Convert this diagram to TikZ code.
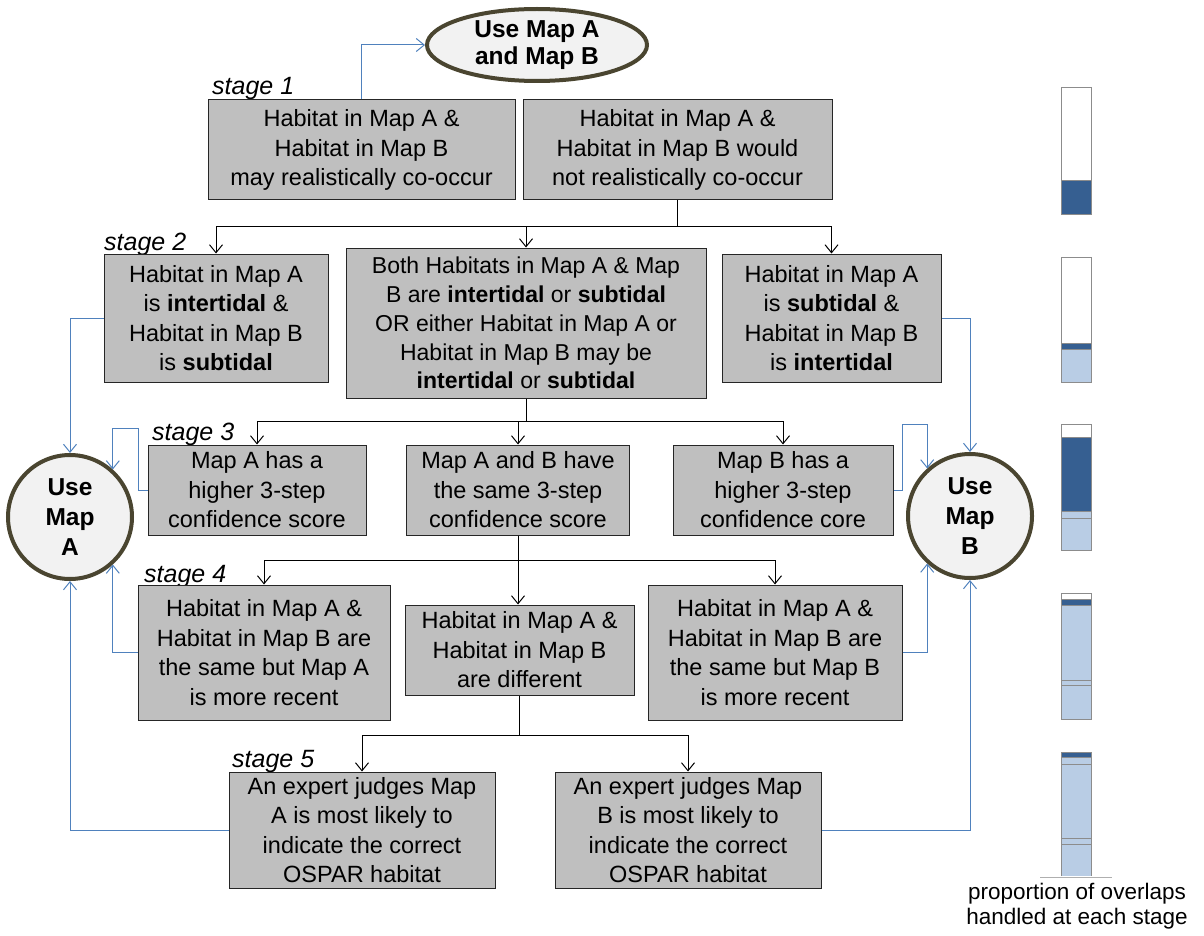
\documentclass[tikz,border=0pt]{standalone}
\usepackage{fontspec}
\setmainfont{Liberation Sans}
\usetikzlibrary{arrows.meta,shapes.geometric}
\definecolor{boxgray}{HTML}{BFBFBF}
\definecolor{rim}{HTML}{4A4530}
\definecolor{capfill}{HTML}{F2F2F2}
\definecolor{lineblue}{HTML}{4F81BD}
\definecolor{bardark}{HTML}{365F91}
\definecolor{barlight}{HTML}{B9CDE5}
\definecolor{barrim}{HTML}{8C8C8C}
\begin{document}
\begin{tikzpicture}[x=1pt,y=-1pt,
  box/.style={draw=black!85,line width=1pt,fill=boxgray,align=center,inner sep=0pt,
    font=\fontsize{23.5}{29.5}\selectfont},
  endnode/.style={draw=rim,line width=4pt,fill=capfill,align=center,inner sep=0pt,
    font=\fontsize{24.5}{29}\selectfont\bfseries},
  stagelbl/.style={anchor=base west,inner sep=0pt,font=\fontsize{25}{28}\selectfont\itshape},
  conn/.style={draw=black,line width=1pt},
  arr/.style={conn,-{Straight Barb[length=8pt,width=13pt,line width=1pt]}},
  barr/.style={draw=lineblue,line width=1pt,-{Straight Barb[length=8pt,width=13pt,line width=1pt]}},
  bar/.style={draw=barrim,line width=1pt}
]
\useasboundingbox (0,0) rectangle (1204,936);

% end nodes
\node[endnode,ellipse,minimum width=220pt,minimum height=72pt] (ell) at (537,45) {Use Map A\\[-2pt]and Map B};
\node[endnode,circle,minimum size=124pt] (cA) at (70,517) {Use\\[1pt]Map\\[1pt]A};
\node[endnode,circle,minimum size=124pt] (cB) at (970,516) {Use\\[1pt]Map\\[1pt]B};

% stage labels
\node[stagelbl] (s1) at (212,95) {stage 1};
\node[stagelbl] (s2) at (104,250) {stage 2};
\node[stagelbl] (s3) at (152,440) {stage 3};
\node[stagelbl] (s4) at (144,582) {stage 4};
\node[stagelbl] (s5) at (232,767) {stage 5};

% stage 1
\node[box,minimum width=307pt,minimum height=100pt] (b1) at (361.5,150) {Habitat in Map A \&\\Habitat in Map B\\may realistically co-occur};
\node[box,minimum width=309pt,minimum height=100pt] (b2) at (677.5,150) {Habitat in Map A \&\\Habitat in Map B would\\not realistically co-occur};

% stage 2
\node[box,minimum width=224pt,minimum height=128pt] (b3) at (216,318) {Habitat in Map A\\is \textbf{intertidal} \&\\Habitat in Map B\\is \textbf{subtidal}};
\node[box,minimum width=360pt,minimum height=150pt,font=\fontsize{23}{28.8}\selectfont] (b4) at (526,323) {Both Habitats in Map A \& Map\\B are \textbf{intertidal} or \textbf{subtidal}\\OR either Habitat in Map A or\\Habitat in Map B may be\\\textbf{intertidal} or \textbf{subtidal}};
\node[box,minimum width=219pt,minimum height=128pt] (b5) at (831.5,318) {Habitat in Map A\\is \textbf{subtidal} \&\\Habitat in Map B\\is \textbf{intertidal}};

% stage 3
\node[box,minimum width=218pt,minimum height=90pt] (b6) at (257,490) {Map A has a\\higher 3-step\\confidence score};
\node[box,minimum width=223pt,minimum height=90pt] (b7) at (518,490) {Map A and B have\\the same 3-step\\confidence score};
\node[box,minimum width=220pt,minimum height=90pt] (b8) at (783,490) {Map B has a\\higher 3-step\\confidence core};

% stage 4
\node[box,minimum width=252pt,minimum height=135pt] (b9) at (264,652.5) {Habitat in Map A \&\\Habitat in Map B are\\the same but Map A\\is more recent};
\node[box,minimum width=229pt,minimum height=90pt] (b11) at (519.5,650) {Habitat in Map A \&\\Habitat in Map B\\are different};
\node[box,minimum width=254pt,minimum height=135pt] (b10) at (775,652.5) {Habitat in Map A \&\\Habitat in Map B are\\the same but Map B\\is more recent};

% stage 5
\node[box,minimum width=266pt,minimum height=116pt] (b12) at (362,830) {An expert judges Map\\A is most likely to\\indicate the correct\\OSPAR habitat};
\node[box,minimum width=266pt,minimum height=116pt] (b13) at (688,830) {An expert judges Map\\B is most likely to\\indicate the correct\\OSPAR habitat};

% black connectors
\draw[conn] (b2.south) -- ++(0,26) coordinate (j1);
\draw[arr] (j1) -| (b3.north);
\draw[arr] (j1) -| (b4.north);
\draw[arr] (j1) -| (b5.north);

\draw[conn] (b4.south) -- ++(0,23) coordinate (j2);
\draw[arr] (j2) -| (b6.north);
\draw[arr] (j2) -| (b7.north);
\draw[arr] (j2) -| (b8.north);

\draw[conn] (b7.south) -- ++(0,25) coordinate (j3);
\draw[arr] (j3) -| (b9.north);
\draw[arr] (j3) -| (b10.north);
\draw[arr] (j3) -- (j3 |- b11.north);

\draw[conn] (b11.south) -- ++(0,40) coordinate (j4);
\draw[arr] (j4) -| (b12.north);
\draw[arr] (j4) -| (b13.north);

% blue connectors
\draw[barr] (b1.north) |- (ell.west);
\draw[barr] (b3.west) -| (cA.north);
\draw[barr] (b5.east) -| (cB.north);
\coordinate (lA) at (138,428);
\coordinate (lB) at (902,424);
\draw[barr] (b6.west) -| (lA) -| (cA.48);
\draw[barr] (b8.east) -| (lB) -| (cB.132);
\draw[barr] (b9.west) -| (cA.-48);
\draw[barr] (b10.east) -| (cB.-132);
\draw[barr] (b12.west) -| (cA.south);
\draw[barr] (b13.east) -| (cB.south);

% proportion bars
\begin{scope}
% bar 1
\fill[white] (1061,88) rectangle (1091,181);
\fill[bardark] (1061,181) rectangle (1091,214);
\draw[bar] (1061,88) rectangle (1091,214);
\draw[bar] (1061,181) -- (1091,181);
% bar 2
\fill[bardark] (1061,343) rectangle (1091,349);
\fill[barlight] (1061,349) rectangle (1091,382);
\draw[bar] (1061,257) rectangle (1091,382);
\draw[bar] (1061,343) -- (1091,343);
\draw[bar] (1061,349) -- (1091,349);
% bar 3
\fill[bardark] (1061,437) rectangle (1091,511);
\fill[barlight] (1061,511) rectangle (1091,550);
\draw[bar] (1061,424) rectangle (1091,550);
\draw[bar] (1061,437) -- (1091,437);
\draw[bar] (1061,511) -- (1091,511);
\draw[bar] (1061,518) -- (1091,518);
% bar 4
\fill[bardark] (1061,599) rectangle (1091,605);
\fill[barlight] (1061,605) rectangle (1091,719);
\draw[bar] (1061,593) rectangle (1091,719);
\draw[bar] (1061,599) -- (1091,599);
\draw[bar] (1061,605) -- (1091,605);
\draw[bar] (1061,680) -- (1091,680);
\draw[bar] (1061,685) -- (1091,685);
% bar 5
\fill[bardark] (1061,752) rectangle (1091,757);
\fill[barlight] (1061,757) rectangle (1091,876);
\draw[bar] (1061,876) -- (1061,752) -- (1091,752) -- (1091,876);
\draw[bar] (1061,757) -- (1091,757);
\draw[bar] (1061,764) -- (1091,764);
\draw[bar] (1061,838) -- (1091,838);
\draw[bar] (1061,844) -- (1091,844);
\draw[draw=barrim!70,line width=1pt] (1040,877) -- (1112,877);
\end{scope}

\node[align=center,inner sep=0pt,font=\fontsize{22.5}{25}\selectfont] (cap) at (1077,906) {proportion of overlaps\\handled at each stage};
\end{tikzpicture}
\end{document}
